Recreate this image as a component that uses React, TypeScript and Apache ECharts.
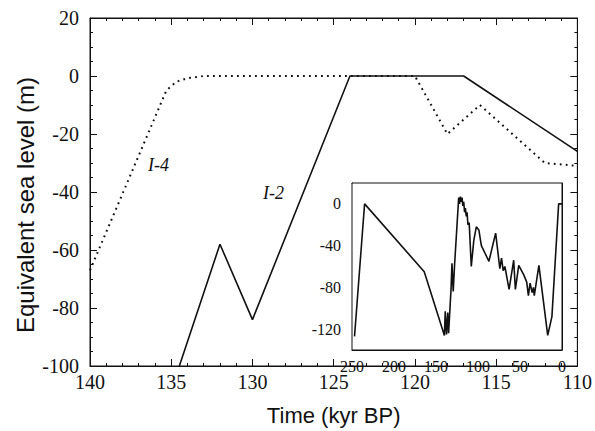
import React, { useEffect, useRef } from "react";
import * as echarts from "echarts";

// Main panel (time in kyr BP, equivalent sea level in m)
const curveI2: [number, number][] = [
  [134.5, -100], [132, -58], [130, -84], [124, 0], [117, 0], [110, -26],
];
const curveI4: [number, number][] = [
  [140, -67], [135.3, -5], [134.7, -2], [134, -0.8], [133, 0], [120, 0],
  [118, -20], [116, -10], [112, -30], [110, -31],
];
const labelI4 = "I-4";
const labelI2 = "I-2";

// Inset: sea-level record over 250 kyr
const insetRecord: [number, number][] = [
  [247, -127], [235, 0], [164, -65], [140, -126], [139, -103], [137.5, -125],
  [136, -104], [135, -124], [132, -80], [131, -57], [129.5, -84], [128, -60],
  [123, 6], [122, 0], [121, 7], [120, 2], [119, 6], [118, -2], [117, 2],
  [116, -8], [115, -4], [114, -12], [113, -8], [112, -20], [110.5, -18],
  [108, -60], [105, -35], [102, -22], [99, -25], [96, -40], [87, -55],
  [79, -28], [74, -62], [72, -52], [70, -64], [68, -60], [63, -82],
  [57.5, -54], [55.5, -82], [51.5, -59], [45.5, -68], [42, -75], [40, -88],
  [38, -76], [35.5, -85], [34, -80], [33, -88], [27.5, -59], [17, -126],
  [12, -108], [4, 0], [0, 0],
];

const xAxisName = "Time (kyr BP)";
const yAxisName = "Equivalent sea level (m)";

const INK = "#111";
const SERIF = "'Liberation Serif', serif";
const SANS = "'Liberation Sans', sans-serif";

function frameAxis(extra: any) {
  return {
    type: "value",
    splitLine: { show: false },
    axisLine: { show: true, onZero: false, lineStyle: { color: INK, width: 1 } },
    axisTick: { show: true, inside: true, length: 7, lineStyle: { color: INK } },
    minorTick: { show: true, length: 3, lineStyle: { color: INK } },
    ...extra,
  };
}

export default function App() {
  const ref = useRef<HTMLDivElement>(null);
  useEffect(() => {
    if (!ref.current) return;
    const chart = echarts.init(ref.current, null, { renderer: "svg" });
    const mainLabel = { fontFamily: SERIF, fontSize: 20, color: INK, fontStyle: "normal", fontWeight: "normal" };
    const insetLabel = { fontFamily: SERIF, fontSize: 16, color: INK, fontStyle: "normal", fontWeight: "normal" };
    chart.setOption({
      animation: false,
      backgroundColor: "#fff",
      textStyle: { fontFamily: SERIF, color: INK },
      grid: [
        { left: 90, right: 15, top: 18, bottom: 54, show: true, borderColor: INK, borderWidth: 1, backgroundColor: "transparent" },
        { left: 352, right: 33, top: 183, bottom: 81, show: true, borderColor: INK, borderWidth: 1, backgroundColor: "#fff", z: 5 },
      ],
      xAxis: [
        frameAxis({
          gridIndex: 0, position: "bottom", min: 110, max: 140, interval: 5, inverse: true,
          minorTick: { show: true, splitNumber: 5, length: 3, lineStyle: { color: INK } },
          axisLabel: { ...mainLabel, margin: 6 },
          name: xAxisName, nameLocation: "middle", nameGap: 38,
          nameTextStyle: { fontFamily: SANS, fontSize: 22, color: INK },
        }),
        frameAxis({
          gridIndex: 0, position: "top", min: 110, max: 140, interval: 5, inverse: true,
          minorTick: { show: true, splitNumber: 5, length: 3, lineStyle: { color: INK } },
          axisLabel: { show: false },
        }),
        frameAxis({
          gridIndex: 1, position: "bottom", min: 0, max: 250, interval: 50, inverse: true,
          axisTick: { show: true, inside: true, length: 5, lineStyle: { color: INK } },
          minorTick: { show: true, splitNumber: 5, length: 2, lineStyle: { color: INK } },
          axisLabel: { ...insetLabel, margin: 8 },
        }),
        frameAxis({
          gridIndex: 1, position: "top", min: 0, max: 250, interval: 50, inverse: true,
          axisTick: { show: true, inside: true, length: 5, lineStyle: { color: INK } },
          minorTick: { show: true, splitNumber: 5, length: 2, lineStyle: { color: INK } },
          axisLabel: { show: false },
        }),
      ],
      yAxis: [
        frameAxis({
          gridIndex: 0, position: "left", min: -100, max: 20, interval: 20,
          minorTick: { show: true, splitNumber: 4, length: 3, lineStyle: { color: INK } },
          axisLabel: { ...mainLabel, margin: 11 },
        }),
        frameAxis({
          gridIndex: 0, position: "right", min: -100, max: 20, interval: 20,
          minorTick: { show: true, splitNumber: 4, length: 3, lineStyle: { color: INK } },
          axisLabel: { show: false },
        }),
        frameAxis({
          gridIndex: 1, position: "left", min: -140, max: 20, interval: 20,
          axisTick: { show: true, inside: true, length: 5, lineStyle: { color: INK } },
          minorTick: { show: true, splitNumber: 2, length: 2, lineStyle: { color: INK } },
          axisLabel: {
            ...insetLabel, margin: 11,
            formatter: (v: number) => (v % 40 === 0 ? String(v) : ""),
          },
        }),
        frameAxis({
          gridIndex: 1, position: "right", min: -140, max: 20, interval: 20,
          axisTick: { show: true, inside: true, length: 5, lineStyle: { color: INK } },
          minorTick: { show: true, splitNumber: 2, length: 2, lineStyle: { color: INK } },
          axisLabel: { show: false },
        }),
      ],
      series: [
        {
          type: "line", xAxisIndex: 0, yAxisIndex: 0, data: curveI2, showSymbol: false, symbol: "none",
          lineStyle: { color: INK, width: 1.6 }, clip: true, z: 2,
        },
        {
          type: "line", xAxisIndex: 0, yAxisIndex: 0, data: curveI4, showSymbol: false, symbol: "none",
          lineStyle: { color: INK, width: 2, type: [1.8, 4.2] }, clip: true, z: 2,
        },
        {
          type: "line", xAxisIndex: 2, yAxisIndex: 2, data: insetRecord, showSymbol: false, symbol: "none",
          lineStyle: { color: INK, width: 1.6 }, clip: true, z: 6,
        },
      ],
      graphic: [
        {
          type: "text", x: 25, y: 205, rotation: Math.PI / 2, z: 10,
          style: { text: yAxisName, font: `24px ${SANS}`, fill: INK, textAlign: "center", textVerticalAlign: "middle" },
        },
        {
          type: "text", left: 148, top: 156, z: 10,
          style: { text: labelI4, font: `italic 18px ${SERIF}`, fill: INK },
        },
        {
          type: "text", left: 263, top: 184, z: 10,
          style: { text: labelI2, font: `italic 18px ${SERIF}`, fill: INK },
        },
      ],
    });
    return () => chart.dispose();
  }, []);
  return <div ref={ref} style={{ width: 595, height: 431, position: "absolute", left: 0, top: 0 }} />;
}
